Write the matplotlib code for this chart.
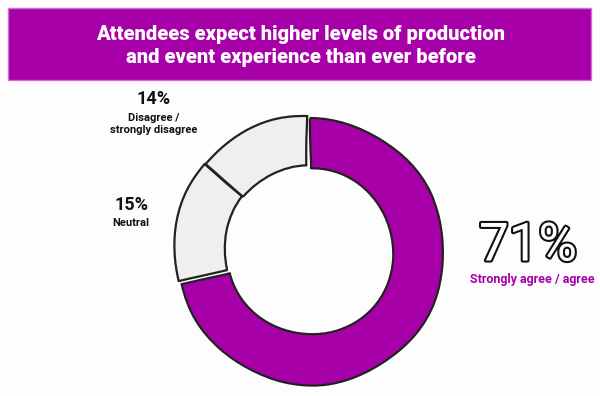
import matplotlib
matplotlib.use('Agg')
import matplotlib.pyplot as plt
import matplotlib.patheffects as pe
from matplotlib.patches import Rectangle

PURPLE = '#A800A9'
GREY = '#EFEFEF'
EDGE = '#222222'

title = "Attendees expect higher levels of production\nand event experience than ever before"
shares = [71, 15, 14]
labels = ["Strongly agree / agree", "Neutral", "Disagree /\nstrongly disagree"]
colors = [PURPLE, GREY, GREY]
explode = [0.035, 0, 0]

plt.rcParams['font.family'] = ['Roboto', 'DejaVu Sans']

fig = plt.figure(figsize=(6, 3.96), dpi=100)
fig.patch.set_facecolor('#FDFDFD')

# pixel-space overlay for banner and labels
bg = fig.add_axes([0, 0, 1, 1])
bg.set_xlim(0, 600)
bg.set_ylim(396, 0)
bg.axis('off')

bg.add_patch(Rectangle((8, 8), 583, 72, facecolor=PURPLE,
                       edgecolor='#D070D0', linewidth=1))
bg.text(301, 46, title, ha='center', va='center', color='white',
        fontsize=14.5, fontweight='black', linespacing=1.3)

# donut: centre (307, 249), outer radius 133 px
cx, cy, r, half = 307, 249, 133, 140
pie_ax = fig.add_axes([(cx - half) / 600, (396 - cy - half) / 396,
                       2 * half / 600, 2 * half / 396])
wedges, _ = pie_ax.pie(shares, colors=colors, explode=explode, radius=1,
                       startangle=90, counterclock=False,
                       wedgeprops=dict(width=50 / r, edgecolor=EDGE, linewidth=1.6))
for w in wedges:
    w.set_sketch_params(scale=0.8, length=150, randomness=2)
pie_ax.set_xlim(-half / r, half / r)
pie_ax.set_ylim(-half / r, half / r)
pie_ax.set_aspect('equal')
pie_ax.axis('off')

# labels
big = bg.text(528, 246, f"{shares[0]}%", ha='center', va='center',
              fontsize=38, color='white', fontweight='normal')
big.set_path_effects([pe.Stroke(linewidth=3, foreground='#111111'), pe.Normal()])
bg.text(532, 279, labels[0], ha='center', va='center', color=PURPLE,
        fontsize=9, fontweight='bold')

bg.text(131, 205, f"{shares[1]}%", ha='center', va='center',
        fontsize=13, fontweight='bold', color='#111111')
bg.text(131, 223, labels[1], ha='center', va='center',
        fontsize=8, fontweight='bold', color='#111111')

bg.text(154, 99, f"{shares[2]}%", ha='center', va='center',
        fontsize=13, fontweight='bold', color='#111111')
bg.text(154, 124, labels[2], ha='center', va='center',
        fontsize=8, fontweight='bold', color='#111111', linespacing=1.25)

fig.savefig('out.png', dpi=100, facecolor=fig.get_facecolor())
